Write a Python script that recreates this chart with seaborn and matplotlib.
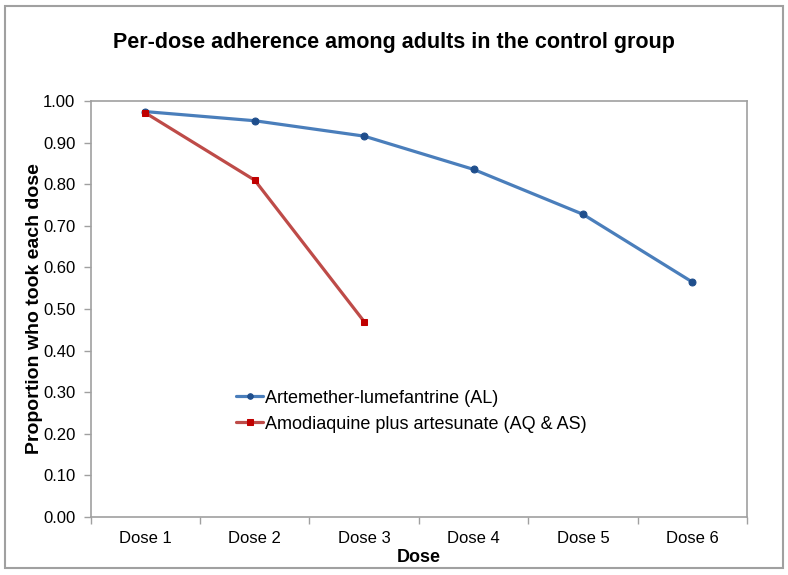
import pandas as pd
import matplotlib.pyplot as plt
import seaborn as sns

# Data
doses = ['Dose 1', 'Dose 2', 'Dose 3', 'Dose 4', 'Dose 5', 'Dose 6']
al_values = [0.975, 0.953, 0.916, 0.836, 0.728, 0.565]
aq_values = [0.972, 0.810, 0.470]
al_name = 'Artemether-lumefantrine (AL)'
aq_name = 'Amodiaquine plus artesunate (AQ & AS)'
y_ticks = [0.0, 0.1, 0.2, 0.3, 0.4, 0.5, 0.6, 0.7, 0.8, 0.9, 1.0]

df = pd.concat([
    pd.DataFrame({'Dose': doses, 'Proportion': al_values, 'Drug': al_name}),
    pd.DataFrame({'Dose': doses[:len(aq_values)], 'Proportion': aq_values, 'Drug': aq_name}),
])
df['pos'] = df['Dose'].map({d: i for i, d in enumerate(doses)})

sns.set_style('white')
plt.rcParams['font.family'] = ['Liberation Sans', 'DejaVu Sans']
plt.rcParams.update({'text.color': 'black', 'axes.labelcolor': 'black',
                     'xtick.labelcolor': 'black', 'ytick.labelcolor': 'black'})

fig = plt.figure(figsize=(7.88, 5.75), dpi=100)
ax = fig.add_axes([0.115, 0.101, 0.833, 0.723])

line_colors = {al_name: '#4a7ebb', aq_name: '#be4b48'}
sns.lineplot(data=df, x='pos', y='Proportion', hue='Drug', style='Drug',
             markers={al_name: 'o', aq_name: 's'}, dashes=False,
             palette=line_colors, linewidth=2.3, markersize=5, ax=ax)

# darker markers, like the original
for line, mc in zip(ax.get_lines()[:2], ['#1f4e8c', '#c00000']):
    line.set_markerfacecolor(mc)
    line.set_markeredgecolor(mc)

ax.set_xlim(-0.5, len(doses) - 0.5)
ax.set_ylim(0, 1.0)
ax.set_yticks(y_ticks)
ax.set_yticklabels([f'{v:.2f}' for v in y_ticks], fontsize=12)
ax.set_xticks([i - 0.5 for i in range(len(doses) + 1)])
ax.set_xticklabels([])
ax.set_xticks(range(len(doses)), minor=True)
ax.set_xticklabels(doses, minor=True, fontsize=12)
ax.tick_params(axis='x', which='minor', length=0, pad=10)
ax.tick_params(axis='both', which='major', length=5, width=1, color='#a0a0a0',
               direction='out', bottom=True, left=True)
ax.tick_params(axis='y', pad=6)

for s in ax.spines.values():
    s.set_color('#a0a0a0')
    s.set_linewidth(1.2)

ax.set_xlabel('Dose', fontsize=13, fontweight='bold', labelpad=2)
ax.set_ylabel('Proportion who took each dose', fontsize=14, fontweight='bold', labelpad=0)
fig.suptitle('Per-dose adherence among adults in the control group',
             fontsize=15.5, fontweight='bold', y=0.945)

handles, labels = ax.get_legend_handles_labels()
for h, mc in zip(handles, ['#1f4e8c', '#c00000']):
    h.set_markerfacecolor(mc)
    h.set_markeredgecolor(mc)
    h.set_markersize(4)
ax.legend(handles, labels, loc='upper left', bbox_to_anchor=(0.197, 0.345),
          frameon=False, handlelength=1.5, handletextpad=0.1,
          labelspacing=0.5, prop={'size': 13})

# outer chart frame
fig.patches.append(plt.Rectangle((0.006, 0.012), 0.988, 0.978, transform=fig.transFigure,
                                 fill=False, edgecolor='#a0a0a0', linewidth=1.5))

fig.savefig('out.png', dpi=100)
